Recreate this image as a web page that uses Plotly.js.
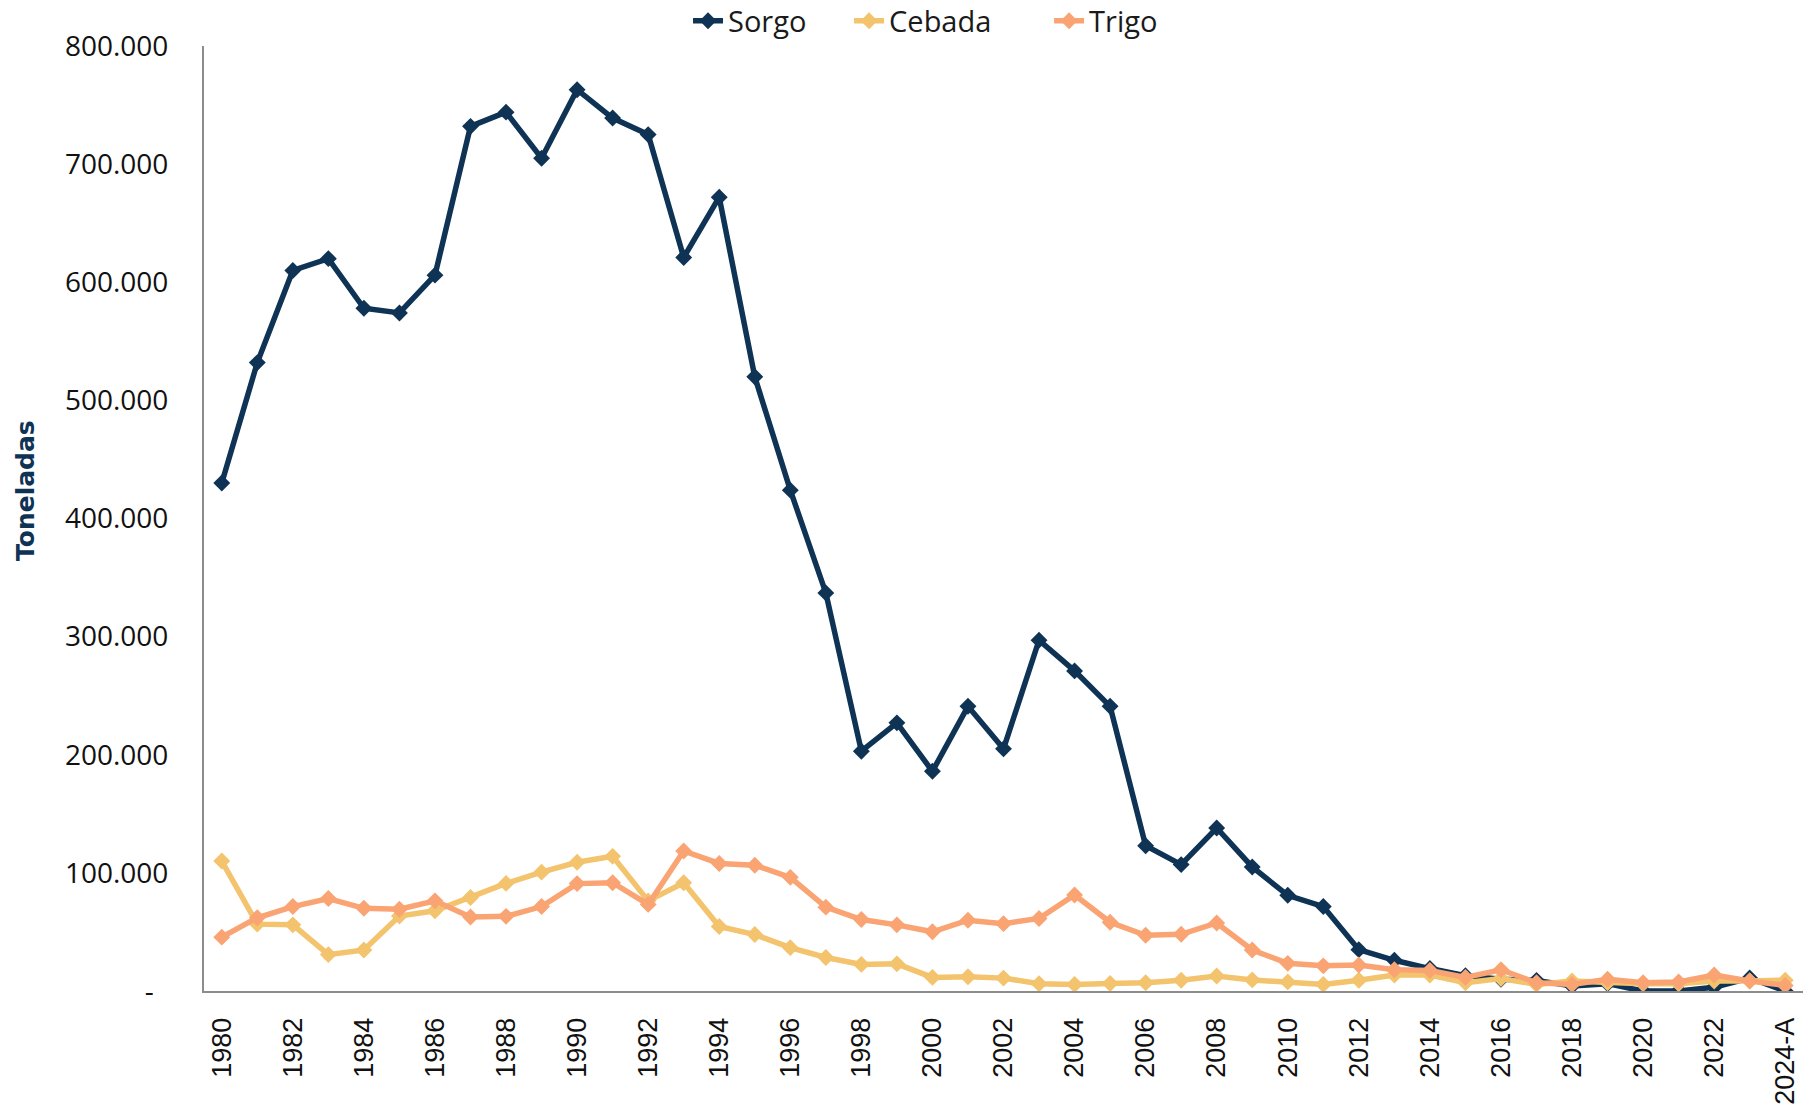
<!DOCTYPE html>
<html>
<head>
<meta charset="utf-8">
<script src="https://cdn.plot.ly/plotly-3.0.1.min.js"></script>
<style>html,body{margin:0;padding:0;background:#fff;}#chart{width:1813px;height:1110px;}</style>
</head>
<body>
<div id="chart"></div>
<script>
const years = ["1980","1981","1982","1983","1984","1985","1986","1987","1988","1989",
  "1990","1991","1992","1993","1994","1995","1996","1997","1998","1999",
  "2000","2001","2002","2003","2004","2005","2006","2007","2008","2009",
  "2010","2011","2012","2013","2014","2015","2016","2017","2018","2019",
  "2020","2021","2022","2023","2024-A"];

const sorgo = [430000,532000,610000,620000,578000,574000,606000,732000,744000,705000,
  763000,739000,725000,621000,672000,520000,424000,337000,203000,227000,
  186000,241000,205000,297000,271000,241000,123000,107000,138000,105000,
  81000,71500,35000,26000,19000,13000,10000,9000,4200,6200,
  0,0,3200,11000,0];

const cebada = [110000,56600,56000,30800,34700,63500,67900,79200,91100,100600,
  109000,114000,76300,91700,54600,47800,36700,28400,22500,23000,
  11500,12100,10900,6200,5600,6400,7000,9100,12700,9400,
  7700,5600,9100,13500,13500,7000,10600,5600,8500,7000,
  6200,6200,8500,8500,9100];

const trigo = [45600,62000,71500,78300,70000,69200,76300,62600,63200,71500,
  90900,91700,73300,118500,108000,106500,96200,71000,60500,56000,
  50100,59900,57000,61400,81300,58200,47200,48000,57600,34700,
  23400,21300,22000,18000,17400,11500,18000,7000,5600,10000,
  7000,7700,13500,8500,4700];

const seriesNames = ["Sorgo","Cebada","Trigo"];
const legendPad = ["\u00a0\u00a0\u00a0\u00a0\u00a0", "\u00a0\u00a0\u00a0\u00a0\u00a0\u00a0\u00a0", ""];
const colors = ["#0f3354","#f3c36d","#f9a472"];
const yTitle = "Toneladas";
const yTickVals = [0,100000,200000,300000,400000,500000,600000,700000,800000];
const yTickText = ["-\u00a0\u00a0","100.000","200.000","300.000","400.000","500.000","600.000","700.000","800.000"];
const xTickVals = years.filter((y,i)=>i%2===0);

const data = [sorgo, cebada, trigo].map((vals, i) => ({
  type: "scatter",
  mode: "lines+markers",
  name: seriesNames[i] + legendPad[i],
  x: years,
  y: vals,
  line: {color: colors[i], width: 5.5},
  marker: {symbol: "diamond", size: 13, color: colors[i]}
}));

const layout = {
  width: 1813, height: 1110,
  margin: {l: 204, r: 10, t: 46, b: 119, autoexpand: false},
  paper_bgcolor: "#ffffff", plot_bgcolor: "#ffffff",
  font: {family: "'Open Sans', sans-serif", color: "#111111"},
  showlegend: true,
  legend: {
    orientation: "h", x: 0.3027, xanchor: "left", y: 1.0265, yanchor: "middle",
    font: {size: 29, family: "'Open Sans', sans-serif", color: "#1a1a1a"},
    traceorder: "normal"
  },
  xaxis: {
    type: "category",
    range: [-0.5, 44.5],
    tickvals: xTickVals,
    tickangle: -90,
    tickfont: {family: "'Liberation Sans', Arial, sans-serif", size: 27, color: "#111"},
    showgrid: false, zeroline: false,
    showline: true, linecolor: "#8c8c8c", linewidth: 2,
    ticks: "", ticklabelstandoff: 14
  },
  yaxis: {
    range: [0, 800000],
    tickvals: yTickVals, ticktext: yTickText,
    tickfont: {family: "'Open Sans', sans-serif", size: 28, color: "#111"},
    showgrid: false, zeroline: false,
    showline: true, linecolor: "#8c8c8c", linewidth: 2,
    ticks: "", ticklabelstandoff: 28
  },
  annotations: [{
    text: "<b>" + yTitle + "</b>",
    xref: "paper", yref: "paper",
    x: (25 - 204) / 1599, y: (991 - 491) / 945,
    xanchor: "center", yanchor: "middle",
    textangle: -90, showarrow: false,
    font: {family: "'DejaVu Sans', sans-serif", size: 25, color: "#0f3354"}
  }]
};

Plotly.newPlot("chart", data, layout, {displayModeBar: false, staticPlot: true});
</script>
</body>
</html>
